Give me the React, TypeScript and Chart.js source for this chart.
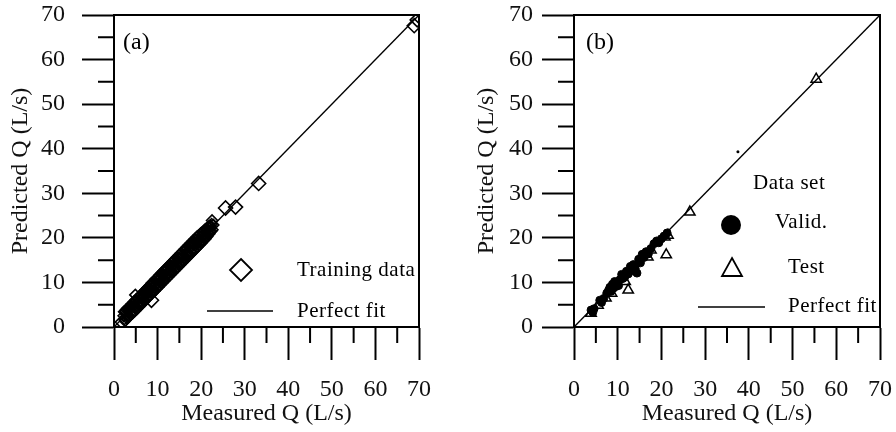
import React, { useEffect, useRef } from 'react';
import { Chart, registerables } from 'chart.js';

Chart.register(...registerables);

// ---------- data ----------
const axisMin = 0;
const axisMax = 70;
const majorTicks = [0, 10, 20, 30, 40, 50, 60, 70];
const minorTicks = [5, 15, 25, 35, 45, 55, 65];
const tickLabels = ['0', '10', '20', '30', '40', '50', '60', '70'];
const fitLineX = [0, 70];
const fitLineY = [0, 70];

// (a) training data – dense band (core)
const trainMeasured = [
  2.2, 2.4, 2.6, 2.9, 3.1, 3.3, 3.5, 3.8, 4.0, 4.2, 4.4, 4.7, 4.9, 5.1, 5.3, 5.6, 5.8, 6.0, 6.2, 6.5,
  6.7, 6.9, 7.1, 7.4, 7.6, 7.8, 8.0, 8.3, 8.5, 8.7, 8.9, 9.2, 9.4, 9.6, 9.8, 10.1, 10.3, 10.5, 10.7, 11.0,
  11.2, 11.4, 11.6, 11.9, 12.1, 12.3, 12.5, 12.8, 13.0, 13.2, 13.4, 13.7, 13.9, 14.1, 14.3, 14.6, 14.8, 15.0, 15.2, 15.5,
  15.7, 15.9, 16.1, 16.4, 16.6, 16.8, 17.0, 17.3, 17.5, 17.7, 17.9, 18.2, 18.4, 18.6, 18.8, 19.1, 19.3, 19.5, 19.7, 20.0,
  20.2, 20.4, 20.6, 20.9, 21.1, 21.3, 21.5, 21.8, 22.0, 22.2, 22.4, 22.6, 22.8, 22.5, 4.9,
];
const trainPredicted = [
  2.5, 1.8, 3.4, 2.7, 2.2, 3.8, 3.6, 3.3, 4.7, 3.2, 4.6, 4.4, 5.5, 4.4, 5.3, 6.5, 5.4, 5.2, 6.6, 6.6,
  6.1, 7.6, 6.9, 7.7, 6.7, 8.3, 7.9, 9.1, 8.0, 8.9, 8.2, 9.8, 9.4, 9.3, 10.7, 9.3, 10.7, 10.1, 10.8, 11.7,
  10.6, 11.7, 10.6, 12.4, 11.9, 13.1, 12.0, 12.8, 13.6, 12.5, 13.6, 13.4, 14.8, 13.2, 14.7, 14.5, 15.5, 14.4, 15.3, 16.0,
  14.9, 16.2, 15.7, 17.2, 16.4, 16.8, 16.3, 17.9, 17.0, 17.9, 18.8, 17.3, 18.8, 18.3, 19.5, 19.0, 19.4, 18.9, 20.2, 19.2,
  20.5, 21.2, 20.2, 20.9, 20.4, 21.9, 21.3, 22.2, 21.5, 22.4, 23.1, 21.8, 22.9, 23.9, 7.2,
];
// (a) training data – dense band (edges)
const trainEdgeMeasured = [
  2.3, 2.5, 2.8, 3.0, 3.2, 3.4, 3.7, 3.9, 4.1, 4.3, 4.6, 4.8, 5.0, 5.2, 5.5, 5.7, 5.9, 6.1, 6.4, 6.6,
  6.8, 7.0, 7.3, 7.5, 7.7, 7.9, 8.2, 8.4, 8.6, 8.8, 9.1, 9.3, 9.5, 9.7, 10.0, 10.2, 10.4, 10.6, 10.9, 11.1,
  11.3, 11.5, 11.8, 12.0, 12.2, 12.4, 12.7, 12.9, 13.1, 13.3, 13.6, 13.8, 14.0, 14.2, 14.5, 14.7, 14.9, 15.1, 15.4, 15.6,
  15.8, 16.0, 16.3, 16.5, 16.7, 16.9, 17.2, 17.4, 17.6, 17.8, 18.1, 18.3, 18.5, 18.7, 19.0, 19.2, 19.4, 19.6, 19.9, 20.1,
  20.3, 20.5, 20.8, 21.0, 21.2, 21.4, 21.7, 21.9, 22.1, 22.3,
];
const trainEdgePredicted = [
  3.4, 1.4, 3.9, 1.9, 4.3, 2.3, 4.6, 2.8, 5.2, 3.1, 5.7, 3.6, 6.1, 4.0, 6.5, 4.5, 7.0, 4.9, 7.4, 5.4,
  7.9, 5.8, 8.4, 6.3, 8.8, 6.8, 9.3, 7.2, 9.8, 7.6, 10.2, 8.1, 10.7, 8.5, 11.1, 9.0, 11.6, 9.4, 12.1, 9.9,
  12.5, 10.3, 13.0, 10.8, 13.4, 11.2, 13.9, 11.7, 14.3, 12.1, 14.8, 12.6, 15.2, 13.0, 15.7, 13.5, 16.1, 13.9, 16.6, 14.4,
  17.0, 14.8, 17.5, 15.3, 17.9, 15.7, 18.4, 16.2, 18.8, 16.6, 19.3, 17.1, 19.7, 17.5, 20.2, 18.0, 20.5, 18.4, 21.0, 18.9,
  21.3, 19.4, 21.8, 19.8, 22.1, 20.3, 22.5, 20.9, 22.8, 21.5,
];
// (a) training data – isolated points
const trainOutMeasured = [1.9, 8.6, 25.6, 27.9, 33.2, 68.9, 69.6];
const trainOutPredicted = [1.1, 6.0, 26.7, 26.9, 32.2, 67.6, 68.9];

// (b) validation data
const validMeasured = [
  3.9, 4.3, 4.6, 5.9, 6.3, 6.8, 7.5, 7.9, 8.2, 8.5, 8.8, 9.0, 9.3, 9.6, 9.9, 10.2, 10.5, 10.9, 11.2, 11.6,
  12.0, 12.4, 12.9, 13.3, 13.6, 14.0, 14.4, 14.8, 15.2, 15.6, 16.0, 16.5, 17.0, 17.6, 18.3, 18.9, 19.4, 20.0, 20.6, 21.3,
];
const validPredicted = [
  3.8, 3.3, 4.1, 6.0, 5.5, 6.4, 7.6, 8.2, 8.9, 8.0, 9.6, 8.7, 10.2, 9.1, 9.8, 9.3, 10.6, 11.8, 10.9, 11.2,
  12.5, 11.9, 13.6, 12.6, 14.0, 13.1, 12.1, 15.2, 14.4, 16.3, 15.6, 16.9, 16.4, 17.6, 18.7, 19.3, 18.9, 19.8, 20.4, 21.1,
];
// (b) test data
const testMeasured = [3.9, 5.5, 7.3, 8.6, 11.7, 12.4, 16.9, 17.6, 21.1, 20.8, 21.5, 26.5, 55.4];
const testPredicted = [3.1, 4.9, 6.5, 7.6, 10.2, 8.3, 15.7, 17.3, 16.2, 20.2, 20.6, 25.8, 55.6];
// (b) stray dot
const dotMeasured = [37.5];
const dotPredicted = [39.3];

// ---------- helpers ----------
const FONT = '"Liberation Serif", "Times New Roman", serif';
const pts = (xs: number[], ys: number[]) => xs.map((x, i) => ({ x, y: ys[i] }));

type PanelSpec = {
  yAxisWidth: number;
  rightPad: number;
  yTickPad: number;
  yTitlePad: number;
  datasets: any[];
  decorate: (ctx: CanvasRenderingContext2D) => void;
};

function makeConfig(spec: PanelSpec): any {
  const frame = {
    id: 'frame',
    afterDraw(chart: any) {
      const { ctx, chartArea, scales } = chart;
      const { left, right, top, bottom } = chartArea;
      ctx.save();
      ctx.strokeStyle = '#000';
      ctx.lineWidth = 2;
      ctx.beginPath();
      ctx.moveTo(left, top);
      ctx.lineTo(right, top);
      ctx.lineTo(right, bottom);
      minorTicks.forEach((v) => {
        const px = scales.x.getPixelForValue(v);
        ctx.moveTo(px, bottom);
        ctx.lineTo(px, bottom + 16);
        const py = scales.y.getPixelForValue(v);
        ctx.moveTo(left, py);
        ctx.lineTo(left - 16, py);
      });
      ctx.stroke();
      ctx.fillStyle = '#000';
      ctx.strokeStyle = '#000';
      spec.decorate(ctx);
      ctx.restore();
    },
  };

  const tickFont = { family: FONT, size: 24 };
  return {
    type: 'scatter',
    data: { datasets: spec.datasets },
    plugins: [frame],
    options: {
      animation: false,
      responsive: false,
      events: [],
      layout: { padding: { top: 15, right: spec.rightPad, bottom: 0, left: 0 } },
      plugins: { legend: { display: false }, tooltip: { enabled: false } },
      scales: {
        x: {
          type: 'linear',
          min: axisMin,
          max: axisMax,
          afterFit: (s: any) => {
            s.height = 105;
            s.paddingLeft = 0;
            s.paddingRight = 0;
          },
          border: { display: true, color: '#000', width: 2 },
          grid: { display: true, drawOnChartArea: false, drawTicks: true, tickLength: 33, tickColor: '#000', tickWidth: 2 },
          ticks: {
            stepSize: 10,
            padding: 15,
            maxRotation: 0,
            autoSkip: false,
            color: '#111',
            font: tickFont,
            callback: (v: number) => tickLabels[majorTicks.indexOf(v)] ?? '',
          },
          title: { display: true, text: 'Measured Q (L/s)', color: '#111', font: tickFont, padding: { top: 0, bottom: 4 } },
        },
        y: {
          type: 'linear',
          min: axisMin,
          max: axisMax,
          afterFit: (s: any) => {
            s.width = spec.yAxisWidth;
            s.paddingTop = 0;
            s.paddingBottom = 0;
          },
          border: { display: true, color: '#000', width: 2 },
          grid: { display: true, drawOnChartArea: false, drawTicks: true, tickLength: 32, tickColor: '#000', tickWidth: 2 },
          ticks: {
            stepSize: 10,
            padding: spec.yTickPad,
            autoSkip: false,
            color: '#111',
            font: tickFont,
            callback: (v: number) => tickLabels[majorTicks.indexOf(v)] ?? '',
          },
          title: { display: true, text: 'Predicted Q (L/s)', color: '#111', font: tickFont, padding: { top: spec.yTitlePad, bottom: 0 } },
        },
      },
    },
  };
}

const fitDataset = {
  label: 'Perfect fit',
  data: pts(fitLineX, fitLineY),
  showLine: true,
  borderColor: '#000',
  borderWidth: 1.4,
  pointRadius: 0,
  order: 5,
};

const legendFont = `21px ${FONT}`;

const diamondStyle = {
  pointStyle: 'rectRot',
  borderColor: '#000',
  borderWidth: 1.6,
  backgroundColor: 'rgba(0,0,0,0)',
};

const specA: PanelSpec = {
  yAxisWidth: 114,
  rightPad: 29,
  yTickPad: 17,
  yTitlePad: 6,
  datasets: [
    fitDataset,
    { label: 'Training data', data: pts(trainMeasured, trainPredicted), pointRadius: 5.5, ...diamondStyle },
    { label: 'Training data (edge)', data: pts(trainEdgeMeasured, trainEdgePredicted), pointRadius: 5.5, ...diamondStyle },
    { label: 'Training data (isolated)', data: pts(trainOutMeasured, trainOutPredicted), pointRadius: 7, ...diamondStyle },
  ],
  decorate: (ctx) => {
    ctx.font = `24px ${FONT}`;
    ctx.textBaseline = 'middle';
    ctx.textAlign = 'left';
    ctx.fillText('(a)', 123, 43);
    // legend diamond
    ctx.lineWidth = 1.8;
    ctx.beginPath();
    ctx.moveTo(241, 259);
    ctx.lineTo(252, 270);
    ctx.lineTo(241, 281);
    ctx.lineTo(230, 270);
    ctx.closePath();
    ctx.stroke();
    ctx.font = legendFont;
    (ctx as any).letterSpacing = '0.5px';
    ctx.fillText('Training data', 297, 270);
    ctx.lineWidth = 1.6;
    ctx.beginPath();
    ctx.moveTo(207, 311);
    ctx.lineTo(273, 311);
    ctx.stroke();
    ctx.fillText('Perfect fit', 297, 311);
    (ctx as any).letterSpacing = '0px';
  },
};

const specB: PanelSpec = {
  yAxisWidth: 126,
  rightPad: 16,
  yTickPad: 9,
  yTitlePad: 24,
  datasets: [
    fitDataset,
    {
      label: 'Valid.',
      data: pts(validMeasured, validPredicted),
      pointStyle: 'circle',
      pointRadius: 4,
      borderColor: '#000',
      borderWidth: 1,
      backgroundColor: '#000',
    },
    {
      label: 'Test',
      data: pts(testMeasured, testPredicted),
      pointStyle: 'triangle',
      pointRadius: 6,
      borderColor: '#000',
      borderWidth: 1.5,
      backgroundColor: 'rgba(0,0,0,0)',
    },
    {
      label: 'dot',
      data: pts(dotMeasured, dotPredicted),
      pointStyle: 'circle',
      pointRadius: 1.5,
      borderWidth: 0,
      backgroundColor: '#000',
    },
  ],
  decorate: (ctx) => {
    ctx.font = `24px ${FONT}`;
    ctx.textBaseline = 'middle';
    ctx.textAlign = 'left';
    ctx.fillText('(b)', 138, 43);
    ctx.font = legendFont;
    (ctx as any).letterSpacing = '0.5px';
    ctx.fillText('Data set', 305, 183);
    ctx.beginPath();
    ctx.arc(283, 225, 10, 0, Math.PI * 2);
    ctx.fill();
    ctx.fillText('Valid.', 327, 222);
    ctx.lineWidth = 1.8;
    ctx.beginPath();
    ctx.moveTo(284, 258);
    ctx.lineTo(294, 276);
    ctx.lineTo(274, 276);
    ctx.closePath();
    ctx.stroke();
    ctx.fillText('Test', 340, 267);
    ctx.lineWidth = 1.6;
    ctx.beginPath();
    ctx.moveTo(250, 307);
    ctx.lineTo(317, 307);
    ctx.stroke();
    ctx.fillText('Perfect fit', 340, 306);
    (ctx as any).letterSpacing = '0px';
  },
};

export default function App() {
  const refA = useRef<HTMLCanvasElement>(null);
  const refB = useRef<HTMLCanvasElement>(null);

  useEffect(() => {
    const a = new Chart(refA.current as HTMLCanvasElement, makeConfig(specA));
    const b = new Chart(refB.current as HTMLCanvasElement, makeConfig(specB));
    return () => {
      a.destroy();
      b.destroy();
    };
  }, []);

  return (
    <div style={{ position: 'fixed', left: 0, top: 0, width: 896, height: 432, background: '#fff' }}>
      <canvas ref={refA} width={448} height={432} style={{ position: 'absolute', left: 0, top: 0, width: 448, height: 432 }} />
      <canvas ref={refB} width={448} height={432} style={{ position: 'absolute', left: 448, top: 0, width: 448, height: 432 }} />
    </div>
  );
}
